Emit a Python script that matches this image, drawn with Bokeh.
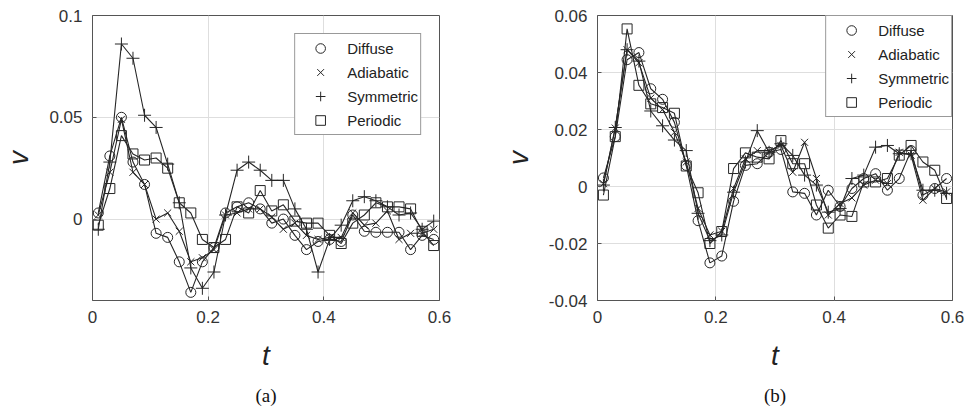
from bokeh.plotting import figure
from bokeh.models import Range1d, FixedTicker, Legend, LegendItem, Title
from bokeh.layouts import row
from bokeh.embed import file_html
from bokeh.resources import INLINE

# ---------------- data ----------------
t = [0.01, 0.03, 0.05, 0.07, 0.09, 0.11, 0.13, 0.15, 0.17, 0.19,
     0.21, 0.23, 0.25, 0.27, 0.29, 0.31, 0.33, 0.35, 0.37, 0.39,
     0.41, 0.43, 0.45, 0.47, 0.49, 0.51, 0.53, 0.55, 0.57, 0.59]

series_names = ["Diffuse", "Adiabatic", "Symmetric", "Periodic"]

# panel (a)
a_diffuse = [0.003, 0.031, 0.050, 0.028, 0.017, -0.007, -0.009, -0.021, -0.036, -0.021,
             -0.014, 0.003, 0.006, 0.008, 0.005, -0.002, 0.000, -0.008, -0.015, -0.011,
             -0.010, -0.011, 0.002, -0.006, -0.0065, -0.0065, -0.0065, -0.015, -0.008, -0.010]
a_adiabatic = [0.002, 0.023, 0.049, 0.023, 0.017, 0.000, 0.003, -0.006, -0.021, -0.019,
               -0.015, 0.002, 0.003, 0.005, 0.005, 0.001, -0.005, -0.002, -0.008, -0.010,
               -0.009, -0.009, 0.003, -0.003, -0.002, 0.004, -0.010, -0.007, -0.007, -0.005]
a_symmetric = [-0.005, 0.028, 0.086, 0.079, 0.051, 0.045, 0.027, 0.008, -0.024, -0.034,
               -0.026, 0.002, 0.024, 0.028, 0.024, 0.019, 0.019, 0.005, -0.005, -0.026,
               -0.010, -0.003, 0.009, 0.011, 0.009, 0.006, 0.002, 0.003, -0.005, -0.001]
a_periodic = [-0.003, 0.015, 0.041, 0.032, 0.029, 0.030, 0.025, 0.008, 0.003, -0.010,
              -0.014, -0.010, 0.006, 0.003, 0.014, 0.004, 0.007, -0.001, -0.002, -0.002,
              -0.008, -0.012, -0.002, 0.002, 0.008, 0.006, 0.006, 0.005, -0.006, -0.013]

# panel (b)
b_diffuse = [0.003, 0.0175, 0.0445, 0.047, 0.0343, 0.0306, 0.0225, 0.0074, -0.012, -0.0268,
             -0.0244, -0.0052, 0.0074, 0.008, 0.012, 0.013, -0.0019, -0.0024, -0.010, -0.0013,
             -0.007, -0.0007, 0.0028, 0.0045, -0.0013, 0.0028, 0.0126, -0.003, -0.0007, 0.0028]
b_adiabatic = [0.001, 0.0205, 0.048, 0.0434, 0.031, 0.027, 0.019, 0.0086, -0.0077, -0.017,
               -0.0157, -0.0007, 0.0097, 0.0126, 0.0126, 0.0144, 0.005, 0.0155, 0.0028, -0.010,
               -0.006, -0.004, 0.0005, 0.0022, 0.001, 0.012, 0.011, -0.0048, -0.0007, -0.0019]
b_symmetric = [0.0005, 0.0207, 0.048, 0.044, 0.0265, 0.0213, 0.0163, 0.0126, -0.0094, -0.019,
               -0.017, -0.002, 0.0086, 0.0196, 0.012, 0.015, 0.0109, 0.004, 0.0005, -0.009,
               -0.0077, 0.0028, 0.004, 0.0138, 0.0144, 0.0115, 0.0115, -0.0013, -0.0013, -0.0024]
b_periodic = [-0.003, 0.0175, 0.0553, 0.0355, 0.029, 0.0277, 0.0257, 0.0072, -0.0022, -0.020,
              -0.0158, 0.0063, 0.0118, 0.0103, 0.0097, 0.0161, 0.008, 0.008, -0.0065, -0.0146,
              -0.010, -0.0105, 0.0016, 0.0016, 0.0028, 0.011, 0.0144, 0.0086, 0.0057, -0.0042]

x_ticks = [0, 0.2, 0.4, 0.6]
x_tick_labels = ["0", "0.2", "0.4", "0.6"]
a_y_ticks = [0, 0.05, 0.1]
a_y_tick_labels = ["0", "0.05", "0.1"]
b_y_ticks = [-0.04, -0.02, 0, 0.02, 0.04, 0.06]
b_y_tick_labels = ["-0.04", "-0.02", "0", "0.02", "0.04", "0.06"]

# ---------------- styling ----------------
INK = "#262626"
markers = ["circle", "x", "cross", "square"]
msizes = [10, 10, 13, 10]
SANS = "Liberation Sans"


def make_panel(series, y_range, yticks, yticklabels, caption,
               border_left, border_right, legend_margin):
    p = figure(width=484, height=414, output_backend="svg", toolbar_location=None,
               x_range=Range1d(0, 0.6), y_range=Range1d(*y_range),
               min_border_left=border_left, min_border_right=border_right,
               min_border_top=15, min_border_bottom=112)
    p.outline_line_color = "#555555"
    p.outline_line_width = 1
    p.background_fill_color = "white"
    p.border_fill_color = "white"

    for ax in (p.xaxis[0], p.yaxis[0]):
        ax.axis_line_color = None
        ax.major_tick_in = 4
        ax.major_tick_out = 0
        ax.minor_tick_line_color = None
        ax.major_tick_line_color = "#555555"
        ax.major_label_text_font = SANS
        ax.major_label_text_font_size = "17px"
        ax.major_label_text_color = "#333333"
        ax.axis_label_text_font = SANS
        ax.axis_label_text_font_style = "italic"
        ax.axis_label_text_font_size = "28px"
        ax.axis_label_text_color = "#222222"

    p.xaxis.ticker = FixedTicker(ticks=x_ticks)
    p.xaxis.major_label_overrides = dict(zip(x_ticks, x_tick_labels))
    p.yaxis.ticker = FixedTicker(ticks=yticks)
    p.yaxis.major_label_overrides = dict(zip(yticks, yticklabels))
    p.xaxis.axis_label = "t"
    p.yaxis.axis_label = "v"
    p.xaxis.major_label_standoff = 10
    p.yaxis.major_label_standoff = 10
    p.xaxis.axis_label_standoff = 14
    p.yaxis.axis_label_standoff = 12

    p.xgrid.ticker = FixedTicker(ticks=x_ticks)
    p.ygrid.ticker = FixedTicker(ticks=yticks)
    p.grid.grid_line_color = "#dedede"
    p.grid.grid_line_width = 1

    items = []
    for name, ys, mk, ms in zip(series_names, series, markers, msizes):
        p.line(t, ys, line_color=INK, line_width=1.1)
        r = p.scatter(t, ys, marker=mk, size=ms, line_color=INK, line_width=1,
                      fill_color=None)
        items.append(LegendItem(label=name, renderers=[r]))

    legend = Legend(items=items, location="top_right", margin=legend_margin,
                    padding=2, spacing=0, glyph_width=46, glyph_height=24,
                    label_height=24, label_standoff=4,
                    label_text_font=SANS, label_text_font_size="15px",
                    label_text_color="#222222",
                    border_line_color="#333333", border_line_width=1,
                    background_fill_color="white", background_fill_alpha=1)
    p.add_layout(legend, "center")

    p.add_layout(Title(text=caption, align="center", text_font="Liberation Serif",
                       text_font_size="19px", text_font_style="normal",
                       text_color="#111111", standoff=18), "below")
    return p


pa = make_panel([a_diffuse, a_adiabatic, a_symmetric, a_periodic], (-0.04, 0.1),
                a_y_ticks, a_y_tick_labels, "(a)", 85, 45, 18)
pb = make_panel([b_diffuse, b_adiabatic, b_symmetric, b_periodic], (-0.04, 0.06),
                b_y_ticks, b_y_tick_labels, "(b)", 113, 16, 0)

layout = row(pa, pb)
open("out.html", "w").write(file_html(layout, INLINE))
